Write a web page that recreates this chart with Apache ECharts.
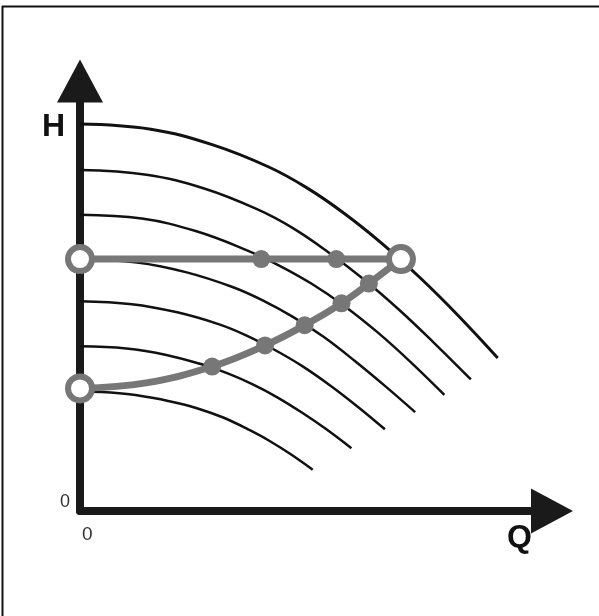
<!DOCTYPE html>
<html>
<head>
<meta charset="utf-8">
<script src="https://cdn.jsdelivr.net/npm/echarts@6/dist/echarts.min.js"></script>
<style>
  html, body { margin: 0; padding: 0; background: #fff; }
  #chart { width: 599px; height: 616px; }
</style>
</head>
<body>
<div id="chart"></div>
<script>
// pump curves, highest speed first, points are [Q, H]
const curve1 = [[0, 90], [15, 88.8], [28, 85.2], [40, 80], [48, 75.2], [56, 69.2], [64, 62.2], [72, 54.3], [80, 45.6], [88.5, 35.6]]
const curve2 = [[0, 79.3], [14.1, 78.2], [26.3, 75], [37.5, 70.2], [45.1, 65.8], [52.6, 60.2], [60.1, 53.9], [67.6, 46.8], [75.1, 39], [82.8, 30.6]]
const curve3 = [[0, 68.9], [13.1, 68], [24.5, 65.1], [35, 60.8], [42, 57.2], [49, 52.9], [56, 47.7], [63, 41.6], [70, 34.7], [77.2, 27]]
const curve4 = [[0, 58.6], [12.1, 57.8], [22.6, 55.5], [32.3, 52.1], [38.7, 49], [45.2, 45.1], [51.6, 40.5], [58.1, 35], [64.6, 29.1], [71, 23]]
const curve5 = [[0, 48.8], [11, 48.1], [20.6, 46.2], [29.5, 43.4], [35.3, 40.8], [41.2, 37.5], [47.1, 33.7], [53, 29.2], [58.9, 24.2], [64.6, 19]]
const curve6 = [[0, 38.3], [9.8, 37.8], [18.3, 36.3], [26.1, 34], [31.3, 32], [36.5, 29.5], [41.7, 26.5], [47, 22.9], [52.2, 19], [57.5, 14.6]]
const curve7 = [[0, 27.8], [8.3, 27.4], [15.6, 26.3], [22.2, 24.7], [26.7, 23.2], [31.1, 21.4], [35.6, 19], [40, 16.4], [44.5, 13.3], [49.3, 9.6]]

// system curve and constant pressure line
const systemCurve = [[0, 28.5], [14, 29.8], [28, 33.6], [39.2, 38.5], [47.6, 43.2], [55.4, 48.3], [61.2, 52.9], [68, 58.6]]
const constLine = [[0, 58.6], [68, 58.6]]
const dots = [[28, 33.6], [39.2, 38.5], [47.6, 43.2], [55.4, 48.3], [61.2, 52.9], [38.4, 58.6], [54.3, 58.6]]
const rings = [[0, 58.6], [0, 28.5], [68, 58.6]]

const xLabels = ['0']
const yLabels = ['0']

const gray = '#777777'
const font = '"Liberation Sans", Arial, sans-serif'

const pumpCurves = [curve1, curve2, curve3, curve4, curve5, curve6, curve7]

const myChart = echarts.init(document.getElementById('chart'))
const option = {
  animation: false,
  backgroundColor: '#fff',
  grid: {
    left: 80,
    right: 47,
    top: 81,
    bottom: 105,
  },
  xAxis: {
    type: 'value',
    min: 0,
    max: 100,
    interval: 100,
    splitLine: { show: false },
    axisTick: { show: false },
    axisLine: {
      lineStyle: { color: '#1a1a1a', width: 8 },
      symbol: ['none', 'triangle'],
      symbolSize: [45, 42],
    },
    axisLabel: {
      margin: 14,
      align: 'left',
      padding: [0, 0, 0, 2],
      fontSize: 19,
      fontFamily: font,
      color: '#333',
      formatter: (v) => (v === 0 ? xLabels[0] : ''),
    },
  },
  yAxis: {
    type: 'value',
    min: 0,
    max: 100,
    interval: 100,
    splitLine: { show: false },
    axisTick: { show: false },
    axisLine: {
      lineStyle: { color: '#1a1a1a', width: 8 },
      symbol: ['none', 'triangle'],
      symbolSize: [46, 43],
    },
    axisLabel: {
      margin: 10,
      verticalAlign: 'bottom',
      fontSize: 18,
      fontFamily: font,
      color: '#333',
      formatter: (v) => (v === 0 ? yLabels[0] : ''),
    },
  },
  graphic: [
    {
      type: 'line',
      shape: { x1: 2, y1: 6.5, x2: 599, y2: 6.5 },
      style: { stroke: '#111', lineWidth: 2 },
    },
    {
      type: 'line',
      shape: { x1: 2.5, y1: 6, x2: 2.5, y2: 616 },
      style: { stroke: '#111', lineWidth: 2 },
    },
    {
      type: 'text',
      x: 53.5,
      y: 127,
      style: {
        text: 'H',
        font: 'bold 32px ' + font,
        fill: '#111',
        align: 'center',
        verticalAlign: 'middle',
        textAlign: 'center',
        textVerticalAlign: 'middle',
      },
    },
    {
      type: 'text',
      x: 519.5,
      y: 538,
      style: {
        text: 'Q',
        font: 'bold 32px ' + font,
        fill: '#111',
        align: 'center',
        verticalAlign: 'middle',
        textAlign: 'center',
        textVerticalAlign: 'middle',
      },
    },
  ],
  series: [
    ...pumpCurves.map((c, i) => ({
      type: 'line',
      data: c,
      smooth: 0.4,
      showSymbol: false,
      silent: true,
      lineStyle: { color: '#111', width: i === 0 ? 3 : 2.5 },
      z: 2,
    })),
    {
      type: 'line',
      data: constLine,
      showSymbol: false,
      clip: false,
      lineStyle: { color: gray, width: 7 },
      z: 3,
    },
    {
      type: 'line',
      data: systemCurve,
      smooth: 0.4,
      showSymbol: false,
      clip: false,
      lineStyle: { color: gray, width: 7 },
      z: 3,
    },
    {
      type: 'scatter',
      data: dots,
      symbolSize: 18,
      clip: false,
      itemStyle: { color: gray, opacity: 1 },
      z: 4,
    },
    {
      type: 'scatter',
      data: rings,
      symbolSize: 24,
      clip: false,
      itemStyle: { color: '#fff', borderColor: gray, borderWidth: 6, opacity: 1 },
      z: 5,
    },
  ],
}
myChart.setOption(option)
</script>
</body>
</html>
